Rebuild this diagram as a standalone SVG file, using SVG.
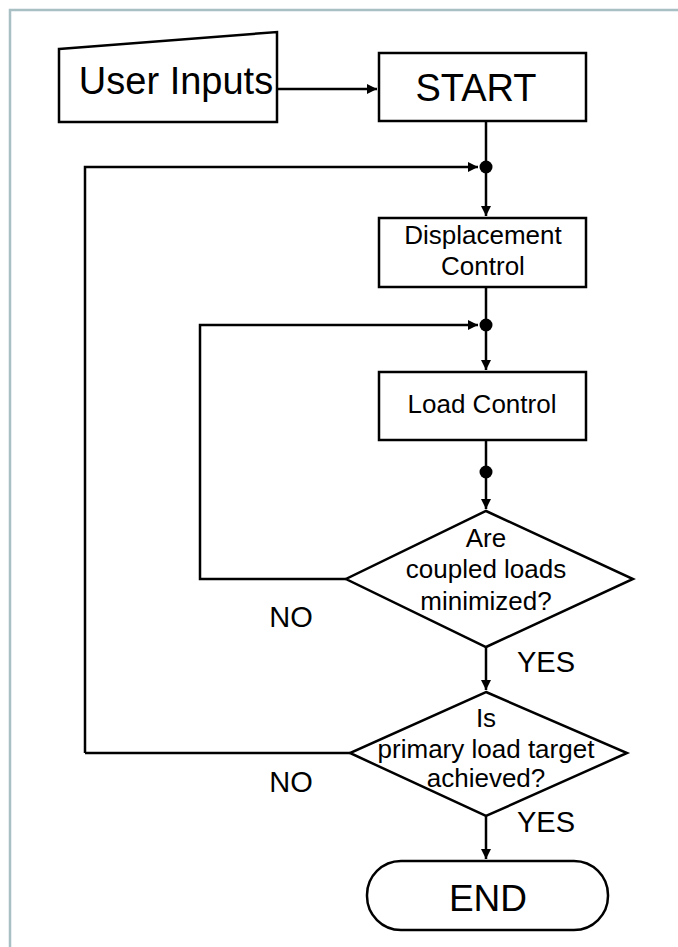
<svg xmlns="http://www.w3.org/2000/svg" width="678" height="947" viewBox="0 0 678 947">
<defs>
<marker id="ah" viewBox="0 0 10 10" refX="10" refY="5" markerWidth="4" markerHeight="4" orient="auto" markerUnits="strokeWidth">
<path d="M0,0 L10,5 L0,10 z" fill="#000"/>
</marker>
<style>
.s{fill:#fff;stroke:#000;stroke-width:2.5}
.c{fill:none;stroke:#000;stroke-width:2.5}
.t{font-family:"Liberation Sans",Arial,sans-serif;fill:#000;text-anchor:middle}
.d{fill:#000}
</style>
</defs>
<rect x="0" y="0" width="678" height="947" fill="#fff"/>
<path d="M10,947 V10 H678" fill="none" stroke="#a8c0c4" stroke-width="2.5"/>
<g id="connectors">
<path class="c" d="M277,89 H377" marker-end="url(#ah)"/>
<path class="c" d="M486,121 V216" marker-end="url(#ah)"/>
<path class="c" d="M85,753 V167 H478" marker-end="url(#ah)"/>
<path class="c" d="M486,287 V370" marker-end="url(#ah)"/>
<path class="c" d="M346,579 H200 V325 H478" marker-end="url(#ah)"/>
<path class="c" d="M486,440 V509" marker-end="url(#ah)"/>
<path class="c" d="M486,647 V690" marker-end="url(#ah)"/>
<path class="c" d="M350,753 H85"/>
<path class="c" d="M486,816 V859" marker-end="url(#ah)"/>
<circle class="d" cx="486" cy="167" r="6.5"/>
<circle class="d" cx="486" cy="325" r="6.5"/>
<circle class="d" cx="486" cy="472" r="6.5"/>
<text class="t" x="291" y="627" font-size="29">NO</text>
<text class="t" x="546" y="672" font-size="29">YES</text>
<text class="t" x="291" y="792" font-size="29">NO</text>
<text class="t" x="546" y="832" font-size="29">YES</text>
</g>
<g id="user-inputs">
<polygon class="s" points="59,49 277,32 277,122 59,122"/>
<text class="t" x="176" y="94" font-size="38">User Inputs</text>
</g>
<g id="start">
<rect class="s" x="379" y="53" width="207" height="68"/>
<text class="t" x="476" y="101" font-size="38">START</text>
</g>
<g id="displacement">
<rect class="s" x="379" y="218" width="207" height="69"/>
<text class="t" x="483" y="244" font-size="26">Displacement</text>
<text class="t" x="483" y="275" font-size="26">Control</text>
</g>
<g id="load-control">
<rect class="s" x="379" y="372" width="207" height="68"/>
<text class="t" x="482" y="413" font-size="26">Load Control</text>
</g>
<g id="decision-coupled">
<polygon class="s" points="486,511 633,579 486,647 346,579"/>
<text class="t" x="486" y="547" font-size="26">Are</text>
<text class="t" x="486" y="578" font-size="26">coupled loads</text>
<text class="t" x="486" y="610" font-size="26">minimized?</text>
</g>
<g id="decision-primary">
<polygon class="s" points="486,692 627,753 486,816 350,753"/>
<text class="t" x="486" y="727" font-size="26">Is</text>
<text class="t" x="486" y="758" font-size="26">primary load target</text>
<text class="t" x="486" y="787" font-size="26">achieved?</text>
</g>
<g id="end">
<rect class="s" x="367" y="861" width="241" height="69" rx="34" ry="34"/>
<text class="t" x="488" y="911" font-size="37">END</text>
</g>
</svg>
